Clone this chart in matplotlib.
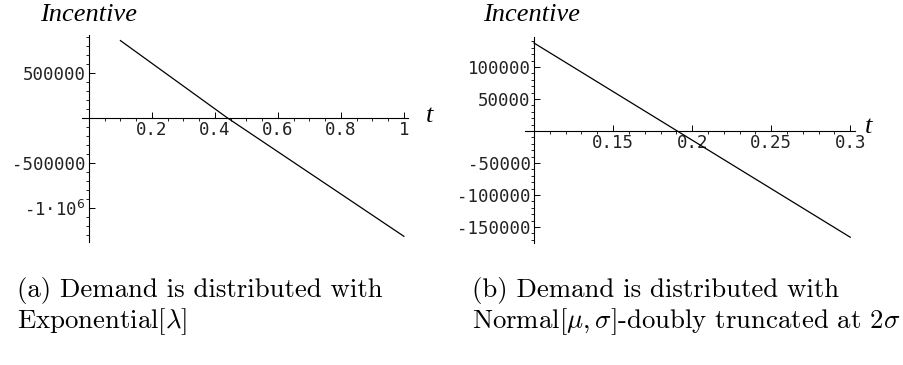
import matplotlib
matplotlib.use("Agg")
import matplotlib.pyplot as plt
from matplotlib.ticker import FixedLocator, MultipleLocator

plt.rcParams["axes.unicode_minus"] = False

# panel (a): exponential demand
t_exp = [0.1, 0.44, 0.8, 1.0]
inc_exp = [860000, 0, -845000, -1315000]
xt_exp = [0.2, 0.4, 0.6, 0.8, 1.0]
xl_exp = ["0.2", "0.4", "0.6", "0.8", "1"]
yt_exp = [500000, -500000, -1000000]
yl_exp = ["500000", "-500000", "-1\u00b710$^{6}$"]

# panel (b): doubly truncated normal demand
t_norm = [0.1, 0.3]
inc_norm = [137500, -166000]
xt_norm = [0.15, 0.2, 0.25, 0.3]
xl_norm = ["0.15", "0.2", "0.25", "0.3"]
yt_norm = [100000, 50000, -50000, -100000, -150000]
yl_norm = ["100000", "50000", "-50000", "-100000", "-150000"]

W, H = 904, 365
fig = plt.figure(figsize=(W / 100, H / 100), dpi=100)


def box(x0, x1, y0, y1):
    return [x0 / W, 1 - y1 / H, (x1 - x0) / W, (y1 - y0) / H]


def fig_xy(x, y):
    return x / W, 1 - y / H


mono = dict(family="DejaVu Sans Mono", size=12.5, color="#222222")


def setup(ax, x0, xlim, ylim, xt, xl, yt, yl, xminor, yminor):
    ax.set_xlim(*xlim)
    ax.set_ylim(*ylim)
    for s in ("top", "right"):
        ax.spines[s].set_visible(False)
    ax.spines["left"].set_position(("data", x0))
    ax.spines["bottom"].set_position(("data", 0))
    for s in ("left", "bottom"):
        ax.spines[s].set_linewidth(0.8)
    ax.patch.set_visible(False)
    ax.xaxis.set_major_locator(FixedLocator(xt))
    ax.set_xticklabels(xl, fontdict=mono)
    ax.xaxis.set_minor_locator(MultipleLocator(xminor))
    ax.yaxis.set_major_locator(FixedLocator(yt))
    ax.set_yticklabels(yl, fontdict=mono, math_fontfamily="dejavusans")
    ax.yaxis.set_minor_locator(MultipleLocator(yminor))
    ax.tick_params(direction="in", width=0.7)
    ax.tick_params(which="major", length=4)
    ax.tick_params(which="minor", length=2.2, width=0.6)
    ax.tick_params(axis="x", pad=2)
    ax.tick_params(axis="y", pad=2.5)


ax1 = fig.add_axes(box(82, 408, 35, 242))
ax1.plot(t_exp, inc_exp, color="black", lw=0.9)
setup(ax1, 0, (-0.022, 1.013), (-1378000, 922000),
      xt_exp, xl_exp, yt_exp, yl_exp, 0.05, 100000)

ax2 = fig.add_axes(box(525, 855, 37, 243))
ax2.plot(t_norm, inc_norm, color="black", lw=0.9)
setup(ax2, 0.1, (0.0943, 0.303), (-175000, 146900),
      xt_norm, xl_norm, yt_norm, yl_norm, 0.01, 10000)

lab = dict(family="Liberation Serif", style="italic", size=19)
fig.text(*fig_xy(89, 15), "Incentive", ha="center", va="center", **lab)
fig.text(*fig_xy(532, 15), "Incentive", ha="center", va="center", **lab)
fig.text(*fig_xy(430, 116), "t", ha="center", va="center", **lab)
fig.text(*fig_xy(869, 127), "t", ha="center", va="center", **lab)

cap = dict(family="cmr10", size=19.3, va="center", ha="left", math_fontfamily="cm")
fig.text(*fig_xy(17, 290), "(a) Demand is distributed with", **cap)
fig.text(*fig_xy(17, 322), r"Exponential[$\lambda$]", **cap)
fig.text(*fig_xy(472, 290), "(b) Demand is distributed with", **cap)
fig.text(*fig_xy(472, 322), r"Normal[$\mu,\sigma$]-doubly truncated at 2$\sigma$", **cap)

fig.savefig("out.png", dpi=100)
